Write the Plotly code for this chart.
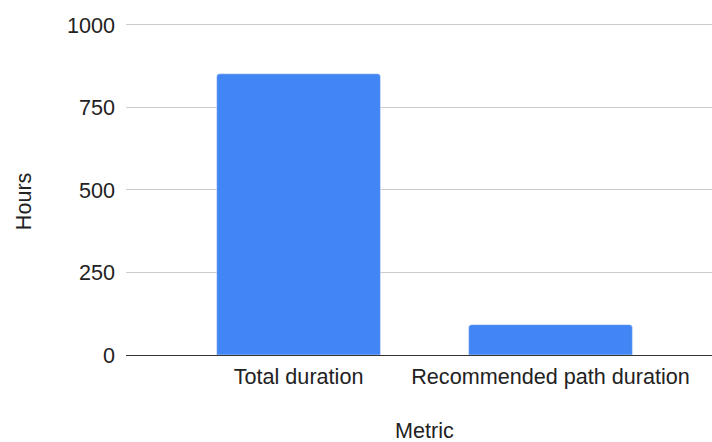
import plotly.graph_objects as go

categories = ["Total duration", "Recommended path duration"]
hours = [852, 92]
y_ticks = [0, 250, 500, 750, 1000]

W, H = 712, 442
L, R, B = 126, 0, 86.5
y_top = 1012
px_per_unit = 330.5 / 1000
T = 25 - (y_top - 1000) * px_per_unit
plot_w = W - L - R
plot_h = H - T - B

x_pos = list(range(len(categories)))

fig = go.Figure(go.Bar(
    x=x_pos, y=hours,
    marker=dict(color="#4285F4", cornerradius=3),
    width=0.65,
))

font = dict(family="Liberation Sans, Arial, sans-serif", size=21.6, color="#222222")

fig.update_layout(
    width=W, height=H, autosize=False,
    margin=dict(l=L, r=R, t=T, b=B, pad=0, autoexpand=False),
    paper_bgcolor="white", plot_bgcolor="white",
    font=font,
    showlegend=False,
    xaxis=dict(
        range=[-0.685, 1.641],
        tickvals=x_pos, ticktext=categories,
        automargin=False,
        showline=True, linecolor="#333333", linewidth=1.2,
        showgrid=False, zeroline=False, ticks="", ticklabelstandoff=2,
        tickfont=font,
    ),
    yaxis=dict(
        range=[0, y_top],
        automargin=False,
        tickvals=y_ticks,
        ticktext=[str(v) for v in y_ticks],
        showgrid=True, gridcolor="#cccccc", gridwidth=1,
        zeroline=False, showline=False, ticks="",
        ticklabelstandoff=10,
        tickfont=font,
    ),
    annotations=[
        dict(text="Hours", textangle=-90, xref="paper", yref="paper",
             x=(23 - L) / plot_w, y=(H - B - 201.5) / plot_h,
             xanchor="center", yanchor="middle", showarrow=False, font=font),
        dict(text="Metric", xref="x", yref="paper",
             x=0.5, y=(H - B - 431) / plot_h,
             xanchor="center", yanchor="middle", showarrow=False, font=font),
    ],
)

fig.write_html("out.html")
